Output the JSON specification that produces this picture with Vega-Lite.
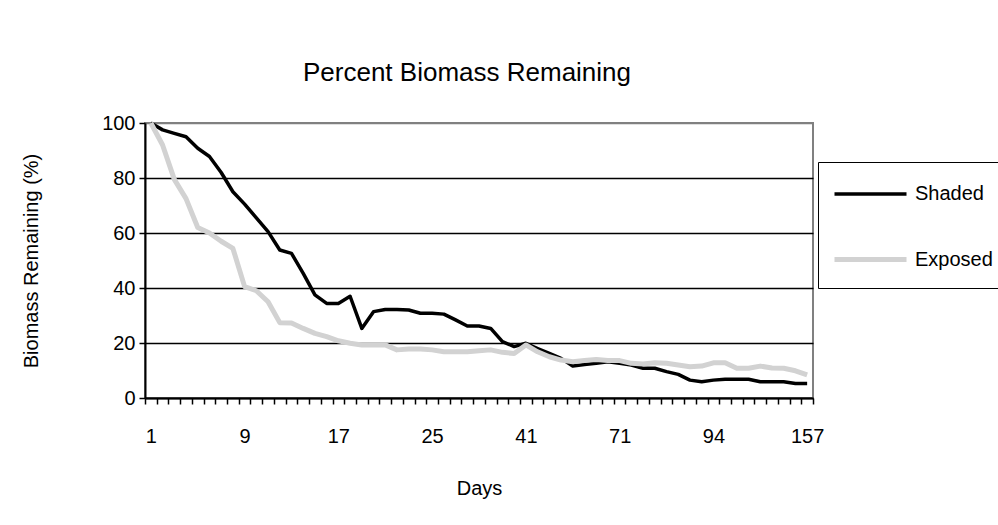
{
  "$schema": "https://vega.github.io/schema/vega-lite/v6.json",
  "autosize": {"type": "none"},
  "width": 668,
  "height": 275,
  "padding": {"left": 145, "top": 123, "right": 185, "bottom": 127},
  "background": "white",
  "config": {
    "font": "Liberation Sans",
    "view": {"stroke": "#808080", "strokeWidth": 2}
  },
  "title": {
    "text": "Percent Biomass Remaining",
    "fontSize": 26,
    "fontWeight": "normal",
    "color": "black",
    "anchor": "middle",
    "baseline": "bottom",
    "offset": 1,
    "dx": -12
  },
  "data": {
    "values": [
      {"day": "1", "Shaded": 100, "Exposed": 100},
      {"day": "2", "Shaded": 97.5, "Exposed": 92},
      {"day": "3", "Shaded": 96.2, "Exposed": 79.5},
      {"day": "4", "Shaded": 95, "Exposed": 72.5},
      {"day": "5", "Shaded": 90.8, "Exposed": 62},
      {"day": "6", "Shaded": 87.8, "Exposed": 60},
      {"day": "7", "Shaded": 82, "Exposed": 57},
      {"day": "8", "Shaded": 75, "Exposed": 54.4},
      {"day": "9", "Shaded": 70.5, "Exposed": 40.5},
      {"day": "10", "Shaded": 65.5, "Exposed": 39},
      {"day": "11", "Shaded": 60.5, "Exposed": 35},
      {"day": "12", "Shaded": 53.8, "Exposed": 27.4},
      {"day": "13", "Shaded": 52.6, "Exposed": 27.3},
      {"day": "14", "Shaded": 45.3, "Exposed": 25.3},
      {"day": "15", "Shaded": 37.5, "Exposed": 23.5},
      {"day": "16", "Shaded": 34.4, "Exposed": 22.3},
      {"day": "17", "Shaded": 34.4, "Exposed": 20.8},
      {"day": "18", "Shaded": 37, "Exposed": 19.9},
      {"day": "19", "Shaded": 25.3, "Exposed": 19.3},
      {"day": "20", "Shaded": 31.4, "Exposed": 19.3},
      {"day": "21", "Shaded": 32.2, "Exposed": 19.3},
      {"day": "22", "Shaded": 32.2, "Exposed": 17.5},
      {"day": "23", "Shaded": 32, "Exposed": 17.8},
      {"day": "24", "Shaded": 30.8, "Exposed": 17.8},
      {"day": "25", "Shaded": 30.8, "Exposed": 17.5},
      {"day": "27", "Shaded": 30.5, "Exposed": 16.8},
      {"day": "29", "Shaded": 28.4, "Exposed": 16.8},
      {"day": "31", "Shaded": 26.2, "Exposed": 16.8},
      {"day": "33", "Shaded": 26.2, "Exposed": 17.2},
      {"day": "35", "Shaded": 25.3, "Exposed": 17.5},
      {"day": "37", "Shaded": 20.5, "Exposed": 16.6},
      {"day": "39", "Shaded": 18.7, "Exposed": 16.2},
      {"day": "41", "Shaded": 19.9, "Exposed": 19.3},
      {"day": "45", "Shaded": 18, "Exposed": 16.8},
      {"day": "49", "Shaded": 16.2, "Exposed": 15},
      {"day": "52", "Shaded": 14.4, "Exposed": 13.8},
      {"day": "56", "Shaded": 11.6, "Exposed": 13.2},
      {"day": "59", "Shaded": 12.2, "Exposed": 13.6},
      {"day": "63", "Shaded": 12.6, "Exposed": 14},
      {"day": "67", "Shaded": 13.2, "Exposed": 13.6},
      {"day": "71", "Shaded": 12.6, "Exposed": 13.6},
      {"day": "74", "Shaded": 12, "Exposed": 12.6},
      {"day": "77", "Shaded": 10.8, "Exposed": 12.4},
      {"day": "80", "Shaded": 10.8, "Exposed": 12.8},
      {"day": "83", "Shaded": 9.6, "Exposed": 12.6},
      {"day": "86", "Shaded": 8.6, "Exposed": 12},
      {"day": "88", "Shaded": 6.5, "Exposed": 11.4},
      {"day": "91", "Shaded": 5.9, "Exposed": 11.6},
      {"day": "94", "Shaded": 6.5, "Exposed": 12.8},
      {"day": "102", "Shaded": 6.8, "Exposed": 12.8},
      {"day": "110", "Shaded": 6.8, "Exposed": 10.8},
      {"day": "118", "Shaded": 6.8, "Exposed": 10.8},
      {"day": "126", "Shaded": 5.9, "Exposed": 11.6},
      {"day": "134", "Shaded": 5.9, "Exposed": 10.9},
      {"day": "142", "Shaded": 5.9, "Exposed": 10.8},
      {"day": "150", "Shaded": 5.3, "Exposed": 9.9},
      {"day": "157", "Shaded": 5.3, "Exposed": 8.4}
    ]
  },
  "transform": [
    {"fold": ["Shaded", "Exposed"], "as": ["series", "value"]}
  ],
  "mark": {"type": "line", "interpolate": "linear", "strokeJoin": "round"},
  "encoding": {
    "x": {
      "field": "day",
      "type": "ordinal",
      "sort": null,
      "bandPosition": 0.5,
      "scale": {"type": "band", "paddingInner": 0, "paddingOuter": 0},
      "axis": {
        "title": "Days",
        "titleFontSize": 20,
        "titleFontWeight": "normal",
        "titleColor": "black",
        "titlePadding": 32,
        "labelAngle": 0,
        "labelFontSize": 20,
        "labelColor": "black",
        "labelPadding": 22,
        "labelExpr": "indexof(['1','9','17','25','41','71','94','157'], datum.label) >= 0 ? datum.label : ''",
        "labelOverlap": false,
        "tickBand": "extent",
        "tickColor": "black",
        "tickWidth": 1.5,
        "tickSize": 6,
        "domainColor": "black",
        "domainWidth": 2,
        "grid": false
      }
    },
    "y": {
      "field": "value",
      "type": "quantitative",
      "scale": {"domain": [0, 100], "nice": false},
      "axis": {
        "title": "Biomass Remaining (%)",
        "titleFontSize": 20,
        "titleFontWeight": "normal",
        "titleColor": "black",
        "titlePadding": 60,
        "values": [0, 20, 40, 60, 80, 100],
        "labelFontSize": 20,
        "labelColor": "black",
        "labelPadding": 4,
        "tickColor": "black",
        "tickWidth": 1.5,
        "tickSize": 6,
        "domainColor": "black",
        "domainWidth": 2,
        "grid": true,
        "gridColor": {"condition": {"test": "datum.value == 100", "value": "#808080"}, "value": "black"},
        "gridWidth": 1.5
      }
    },
    "color": {
      "field": "series",
      "type": "nominal",
      "scale": {"domain": ["Shaded", "Exposed"], "range": ["#000000", "#d2d2d2"]},
      "legend": {
        "title": null,
        "orient": "none",
        "legendX": 673,
        "legendY": 39,
        "strokeColor": "black",
        "fillColor": "white",
        "padding": 18,
        "labelFontSize": 20,
        "labelColor": "black",
        "symbolType": "M-3,0H3",
        "symbolSize": 576,
        "symbolOffset": 20,
        "labelOffset": 30,
        "symbolStrokeWidth": 3.5,
        "rowPadding": 41
      }
    },
    "strokeWidth": {
      "field": "series",
      "type": "nominal",
      "scale": {"domain": ["Shaded", "Exposed"], "range": [3.5, 5]},
      "legend": null
    }
  }
}
